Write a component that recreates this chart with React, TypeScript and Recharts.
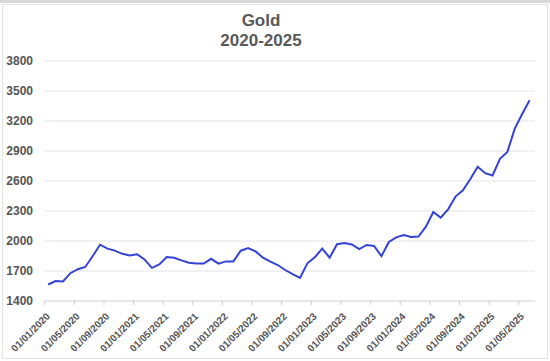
import React from "react";
import { LineChart, Line, XAxis, YAxis, CartesianGrid } from "recharts";

// Monthly gold prices (USD/oz), Jan..Dec
const gold2020 = [1565, 1600, 1595, 1678, 1718, 1740, 1848, 1963, 1924, 1904, 1872, 1856];
const gold2021 = [1868, 1816, 1731, 1765, 1840, 1832, 1806, 1783, 1776, 1774, 1822, 1774];
const gold2022 = [1796, 1796, 1903, 1930, 1896, 1833, 1794, 1760, 1710, 1668, 1631, 1777];
const gold2023 = [1837, 1924, 1833, 1968, 1980, 1965, 1918, 1960, 1951, 1849, 1990, 2036];
const gold2024 = [2060, 2040, 2044, 2144, 2290, 2234, 2317, 2444, 2507, 2620, 2742, 2678];
const gold2025 = [2655, 2822, 2890, 3124, 3270, 3407];

const years = [2020, 2021, 2022, 2023, 2024, 2025];
const seriesByYear = [gold2020, gold2021, gold2022, gold2023, gold2024, gold2025];

// each monthly value is dated the 15th of its month
const DATA_DAY = 15;

const xTickMonths = [0, 4, 8, 12, 16, 20, 24, 28, 32, 36, 40, 44, 48, 52, 56, 60, 64];
const yTicks = [1400, 1700, 2000, 2300, 2600, 2900, 3200, 3500, 3800];

const titleLines = ["Gold", "2020-2025"];

const data = seriesByYear.flatMap((vals, yi) =>
  vals.map((v, m) => ({
    x: (years[yi] - years[0]) * 12 + m + (DATA_DAY - 1) / 30,
    price: v,
  }))
);

const monthLabel = (idx: number) => {
  const y = years[0] + Math.floor(idx / 12);
  const m = (idx % 12) + 1;
  return `01/${m < 10 ? "0" + m : m}/${y}`;
};

const FONT = "'Liberation Sans', Arial, sans-serif";

const XTick = (props: any) => {
  const { x, y, payload } = props;
  return (
    <g transform={`translate(${x + 6},${y + 10})`}>
      <text
        x={0}
        y={0}
        textAnchor="end"
        transform="rotate(-45)"
        fontFamily={FONT}
        fontWeight="bold"
        fontSize={10}
        fill="#555555"
      >
        {monthLabel(payload.value)}
      </text>
    </g>
  );
};

export default function App() {
  return (
    <div
      style={{
        position: "absolute",
        left: 0,
        top: 0,
        width: 550,
        height: 361,
        background: "#ffffff",
        overflow: "hidden",
      }}
    >
      <div style={{ position: "absolute", left: 0, top: 0, width: 550, height: 3, background: "#d9d9d9" }} />
      <div
        style={{
          position: "absolute",
          left: 2,
          top: 4,
          width: 544,
          height: 353,
          border: "1px solid #e3e3e3",
        }}
      />
      <div
        style={{
          position: "absolute",
          left: 161,
          top: 11,
          width: 200,
          textAlign: "center",
          fontFamily: FONT,
          fontWeight: "bold",
          fontSize: 17,
          lineHeight: "20px",
          color: "#595959",
        }}
      >
        {titleLines.map((t) => (
          <div key={t}>{t}</div>
        ))}
      </div>
      <div style={{ position: "absolute", left: 0, top: 0 }}>
        <LineChart
          width={550}
          height={361}
          data={data}
          margin={{ top: 61, right: 15, left: 0, bottom: 0 }}
        >
          <CartesianGrid vertical={false} stroke="#e4e4e4" />
          <XAxis
            type="number"
            dataKey="x"
            domain={[-0.1, 66.2]}
            allowDataOverflow
            ticks={xTickMonths}
            interval={0}
            height={60}
            tickSize={4}
            tickLine={{ stroke: "#cccccc" }}
            axisLine={{ stroke: "#dddddd" }}
            tick={<XTick />}
          />
          <YAxis
            type="number"
            domain={[1400, 3800]}
            ticks={yTicks}
            interval={0}
            width={44}
            axisLine={false}
            tickLine={false}
            tickMargin={5}
            tick={{ fontFamily: FONT, fontWeight: "bold", fontSize: 12, fill: "#555555" }}
          />
          <Line
            type="linear"
            dataKey="price"
            stroke="#3343d6"
            strokeWidth={2}
            dot={false}
            isAnimationActive={false}
          />
        </LineChart>
      </div>
    </div>
  );
}
